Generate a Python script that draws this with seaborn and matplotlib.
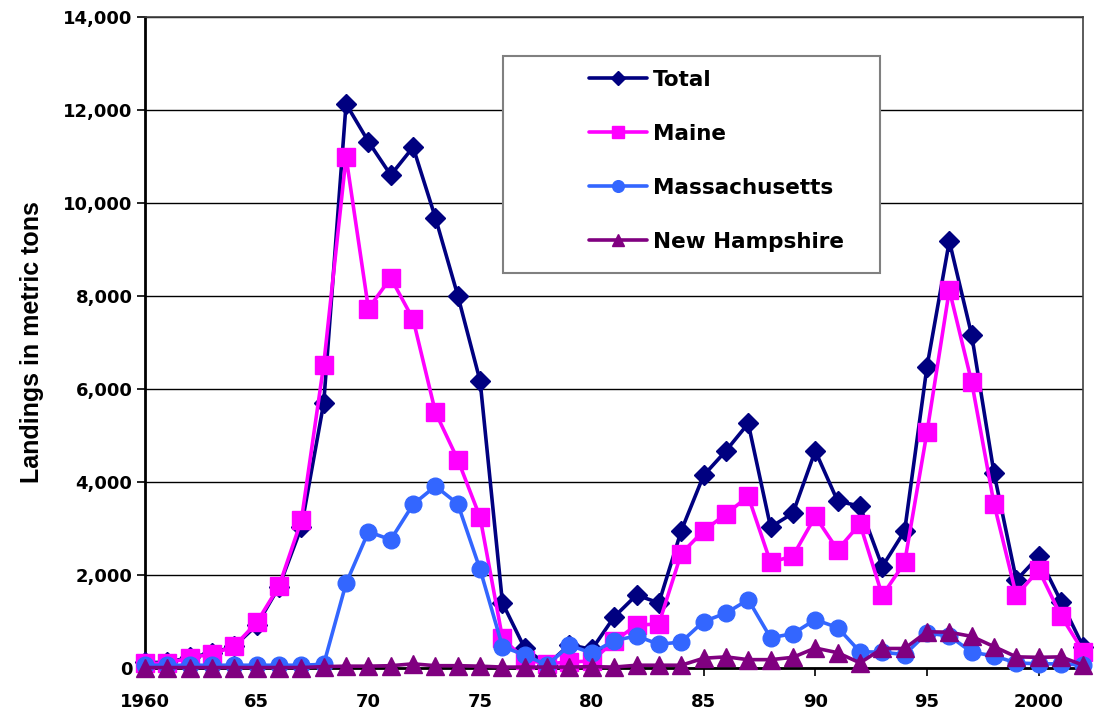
import pandas as pd
import matplotlib
matplotlib.use("Agg")
import matplotlib.pyplot as plt
from matplotlib.patches import Rectangle
import seaborn as sns

# data (metric tons)
years = list(range(1960, 2003))

total = [120, 120, 230, 320, 470, 920, 1750, 3030, 5700, 12130,
         11320, 10600, 11200, 9680, 8010, 6170, 1400, 420, 70, 500,
         400, 1100, 1570, 1400, 2950, 4140, 4670, 5260, 3030, 3330,
         4670, 3590, 3480, 2180, 2950, 6480, 9180, 7160, 4190, 1890,
         2400, 1430, 450]

maine = [100, 100, 220, 300, 470, 980, 1760, 3180, 6520, 10990,
         7730, 8390, 7500, 5500, 4480, 3240, 640, 180, 90, 130,
         150, 580, 920, 950, 2460, 2950, 3310, 3690, 2270, 2410,
         3260, 2540, 3100, 1560, 2270, 5070, 8130, 6150, 3530, 1560,
         2110, 1120, 350]

massachusetts = [60, 60, 60, 60, 60, 60, 60, 60, 80, 1820,
                 2930, 2760, 3520, 3910, 3530, 2120, 460, 280, 60, 490,
                 320, 590, 690, 510, 560, 1000, 1180, 1470, 650, 740,
                 1040, 870, 350, 340, 290, 750, 690, 340, 260, 110,
                 90, 90, 65]

new_hampshire = [10, 10, 10, 10, 10, 10, 10, 10, 30, 40,
                 40, 50, 90, 50, 50, 40, 20, 20, 20, 20,
                 30, 20, 60, 60, 60, 210, 240, 180, 180, 230,
                 430, 330, 110, 420, 420, 780, 770, 680, 460, 240,
                 230, 240, 60]

series_names = ["Total", "Maine", "Massachusetts", "New Hampshire"]
series_values = [total, maine, massachusetts, new_hampshire]

df = pd.concat([pd.DataFrame({"Year": years, "Landings": vals, "Series": name})
                for name, vals in zip(series_names, series_values)])

colors = {"Total": "#000080", "Maine": "#FF00FF",
          "Massachusetts": "#3366FF", "New Hampshire": "#800080"}
markers = {"Total": "D", "Maine": "s", "Massachusetts": "o", "New Hampshire": "^"}
msizes = {"Total": 10, "Maine": 12.5, "Massachusetts": 12, "New Hampshire": 12.5}

sns.set_style("white")
plt.rcParams["text.color"] = "black"

fig = plt.figure(figsize=(10.95, 7.19), dpi=100)
ax = fig.add_axes([0.1324, 0.0709, 0.857, 0.9055])

for i, name in enumerate(series_names):
    sns.lineplot(data=df[df["Series"] == name], x="Year", y="Landings",
                 color=colors[name], marker=markers[name], markersize=msizes[name],
                 markeredgecolor=colors[name], markeredgewidth=1, linewidth=2.6,
                 label=name, clip_on=False, zorder=3 + i, ax=ax)

ax.set_xlim(1960, 2002)
ax.set_ylim(0, 14000)
ax.set_xticks(range(1960, 2001, 5))
ax.set_xticklabels(["1960", "65", "70", "75", "80", "85", "90", "95", "2000"])
ax.set_yticks(range(0, 14001, 2000))
ax.set_yticklabels([f"{v:,}" for v in range(0, 14001, 2000)])

ax.yaxis.grid(True, color="black", linewidth=1)
ax.xaxis.grid(False)
ax.set_axisbelow(True)

for side in ["left", "bottom"]:
    ax.spines[side].set_color("black")
    ax.spines[side].set_linewidth(2)
for side in ["top", "right"]:
    ax.spines[side].set_color("#404040")
    ax.spines[side].set_linewidth(1.2)

ax.tick_params(axis="x", direction="out", length=6, width=1.2, pad=12,
               colors="black", labelsize=13, bottom=True)
ax.tick_params(axis="y", direction="out", length=6, width=1.2, pad=3,
               colors="black", labelsize=13, left=True)
for lab in ax.get_xticklabels() + ax.get_yticklabels():
    lab.set_fontweight("bold")
    lab.set_family("DejaVu Sans")

ax.set_xlabel("")
ax.set_ylabel("Landings in metric tons", fontsize=18, fontweight="bold",
              family="Liberation Sans", color="black", labelpad=14)

# legend frame
ax.add_patch(Rectangle((0.3817, 0.607), 0.402, 0.333, transform=ax.transAxes,
                       facecolor="white", edgecolor="#808080", linewidth=1.5,
                       zorder=2.5))
handles, labels = ax.get_legend_handles_labels()
leg = ax.legend(handles, labels, loc="center left", bbox_to_anchor=(0.4616, 0.7788),
                frameon=False, borderpad=0, handlelength=2.7, handletextpad=0.28,
                labelspacing=1.58, markerscale=0.7, labelcolor="black",
                prop={"family": "DejaVu Sans", "weight": "bold", "size": 15.5})
leg.set_zorder(10)

fig.savefig("out.png", dpi=100)
